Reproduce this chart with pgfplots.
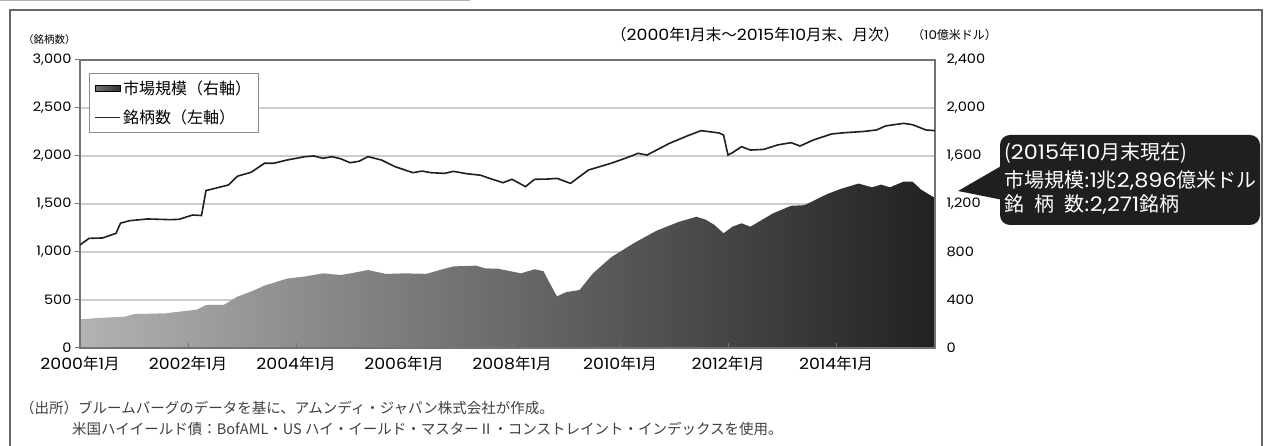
\documentclass[border=0pt]{standalone}
\usepackage{fontspec}
\usepackage{pgfplots}
\usepackage{pgfplotstable}
\pgfplotsset{compat=1.18}
\setmainfont{Noto Sans CJK JP}
\newfontfamily\numf[FakeStretch=1.12]{Poppins}
\newcommand{\fs}[1]{\fontsize{#1}{#1}\selectfont}
\newcommand{\yl}[1]{{\numf #1}年{\numf 1}月}

\pgfplotstableread{
m v
0 1073
2 1142
5 1146
8 1194
9 1300
11 1326
15 1344
20 1337
22 1340
25 1385
27 1380
28 1640
30 1663
33 1698
35 1790
38 1830
41 1924
43 1924
46 1958
50 1993
52 2000
54 1976
56 1993
58 1970
60 1930
62 1945
64 1993
67 1958
70 1889
74 1826
76 1843
78 1826
81 1819
83 1840
86 1815
89 1800
91 1767
94 1722
96 1757
99 1681
101 1757
104 1760
106 1767
109 1715
113 1854
118 1924
122 1990
124 2028
126 2010
131 2132
135 2210
138 2264
142 2240
143 2219
144 2010
145 2035
147 2097
149 2062
152 2069
155 2115
158 2139
160 2104
163 2167
167 2229
170 2243
174 2255
177 2271
179 2313
183 2340
185 2326
188 2271
190 2264
}\issues

\pgfplotstableread{
m v
0 239
4 250
10 261
12 283
19 289
26 320
28 358
32 360
35 428
38 470
41 520
46 578
50 596
54 622
58 608
61 628
64 650
68 617
72 622
77 618
80 650
83 680
88 686
90 664
93 660
98 622
101 656
103 640
104 567
106 430
108 465
111 483
114 622
118 755
123 872
128 975
133 1050
137 1094
139 1070
141 1025
143 956
145 1011
147 1039
149 1011
154 1122
158 1185
161 1190
166 1282
169 1325
173 1370
176 1339
178 1361
180 1339
183 1386
185 1386
187 1317
190 1250
}\mktsize

\begin{document}
\begin{tikzpicture}[x=1pt,y=1pt]
\useasboundingbox (0,0) rectangle (1267,446);
\fill[white] (0,0) rectangle (1267,446);
\draw[line width=1pt, black!30] (0,445.5) -- (470,445.5);
\draw[line width=2.5pt, black!60] (10,-5) -- (10,436) -- (1262,436) -- (1262,-5);

\begin{axis}[
  at={(80pt,98pt)}, anchor=south west,
  width=855pt, height=288pt, scale only axis,
  xmin=0, xmax=190, ymin=0, ymax=2400,
  hide x axis,
  axis y line*=right,
  y axis line style={draw=none},
  ytick={0,400,...,2400},
  ymajorgrids,
  grid style={black!20, line width=1.7pt},
  tick style={draw=none},
  yticklabel style={font=\numf\fs{13}, anchor=west, xshift=8pt},
  /pgf/number format/assume math mode=true,
  /pgf/number format/1000 sep={,},
]
\addplot[draw=none, left color=black!30, middle color=black!70, right color=black!87] table[x=m,y=v] {\mktsize} \closedcycle;
\end{axis}

\begin{axis}[
  at={(80pt,98pt)}, anchor=south west,
  width=855pt, height=288pt, scale only axis,
  xmin=0, xmax=190, ymin=0, ymax=3000,
  axis line style={black!55, line width=1.4pt},
  xtick={0,24,...,168},
  xticklabels={\yl{2000},\yl{2002},\yl{2004},\yl{2006},\yl{2008},\yl{2010},\yl{2012},\yl{2014}},
  xtick pos=bottom, xtick align=inside,
  ytick={0,500,...,3000},
  ytick pos=left, ytick align=outside,
  major tick length=5pt,
  tick style={black!55, line width=1pt},
  xticklabel style={font=\fs{15.5}, yshift=-5pt},
  yticklabel style={font=\numf\fs{13}},
  /pgf/number format/assume math mode=true,
  /pgf/number format/1000 sep={,},
  legend style={at={(axis description cs:0.0105,0.955)}, anchor=north west, draw=black!45, line width=0.8pt, font=\fs{16}, inner xsep=5pt, inner ysep=5pt, row sep=9pt, nodes={inner sep=2.5pt}},
  legend cell align=left,
]
\addlegendimage{legend image code/.code={\fill[left color=black!55, right color=black!80] (0pt,-3pt) rectangle (25pt,3pt);}}
\addlegendentry{市場規模（右軸）}
\addplot[black!88, line width=1.6pt, legend image code/.code={\draw[black!85, line width=1.3pt] (0pt,0pt) -- (25pt,0pt);}] table[x=m,y=v] {\issues};
\addlegendentry{銘柄数（左軸）}
\end{axis}

\node[anchor=west, font=\fs{10.5}, inner sep=0] at (23,406) {（銘柄数）};
\node[anchor=west, font=\fs{15.5}, inner sep=0] at (611,411) {（{\numf 2000}年{\numf 1}月末～{\numf 2015}年{\numf 10}月末、月次）};
\node[anchor=west, font=\fs{12}, inner sep=0] at (912,411) {（{\numf 10}億米ドル）};

\fill[black!88, rounded corners=10pt] (1000,311) rectangle (1260,221);
\fill[black!88] (1003,281) -- (958,255) -- (1003,246) -- cycle;
\node[anchor=west, text=white, font=\fs{20}, inner sep=0] at (1004,293) {({\numf 2015}年{\numf 10}月末現在)};
\node[anchor=west, text=white, font=\fs{20}, inner sep=0] at (1004,266) {市場規模:{\numf 1}兆{\numf 2,896}億米ドル};
\node[anchor=west, text=white, font=\fs{20}, inner sep=0] at (1004,241) {銘\hspace{0.5em}柄\hspace{0.5em}数:{\numf 2,271}銘柄};

\node[anchor=west, font=\fs{14.5}, text=black!75, inner sep=0] at (20,38) {（出所）ブルームバーグのデータを基に、アムンディ・ジャパン株式会社が作成。};
\node[anchor=west, font=\fs{14.5}, text=black!75, inner sep=0] at (72,17) {米国ハイイールド債：BofAML・US ハイ・イールド・マスターⅡ・コンストレイント・インデックスを使用。};
\end{tikzpicture}
\end{document}
